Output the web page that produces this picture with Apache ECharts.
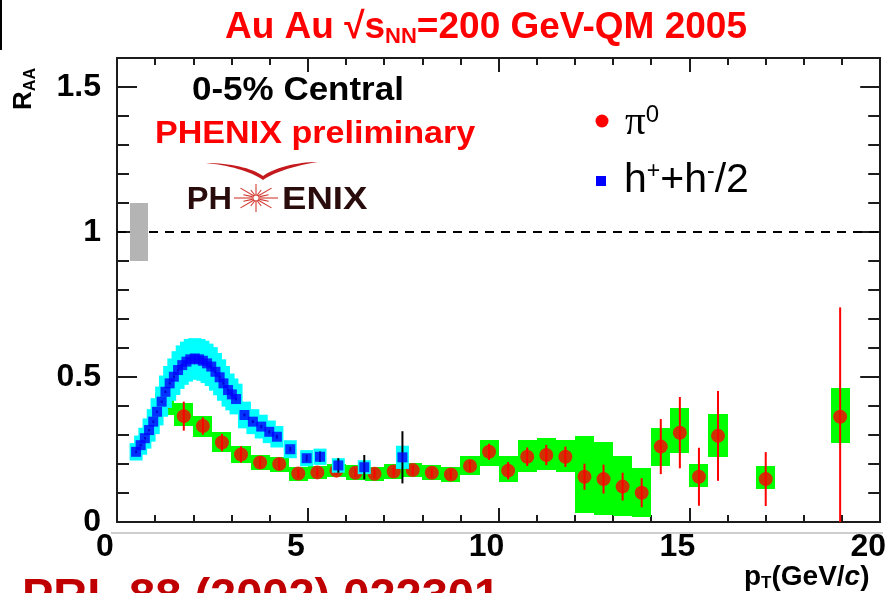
<!DOCTYPE html>
<html>
<head>
<meta charset="utf-8">
<script src="https://cdn.jsdelivr.net/npm/echarts@6/dist/echarts.min.js"></script>
<style>
  html, body { margin: 0; padding: 0; background: #ffffff; }
  #chart { width: 889px; height: 593px; }
</style>
</head>
<body>
<div id="chart"></div>
<script>
// pi0 nuclear modification factor, 0-5% central Au+Au at 200 GeV
const pi0Pt      = [1.25, 1.75, 2.25, 2.75, 3.25, 3.75, 4.25, 4.75, 5.25, 5.75,
                    6.25, 6.75, 7.25, 7.75, 8.25, 8.75, 9.25, 9.75, 10.25, 10.75,
                    11.25, 11.75, 12.25, 12.75, 13.25, 13.75, 14.25, 14.75, 15.25, 15.75,
                    17.0, 18.95];
const pi0Raa     = [0.41, 0.365, 0.331, 0.274, 0.233, 0.205, 0.200, 0.167, 0.171, 0.177,
                    0.170, 0.166, 0.174, 0.179, 0.170, 0.164, 0.193, 0.242, 0.177, 0.225,
                    0.231, 0.225, 0.156, 0.148, 0.122, 0.101, 0.260, 0.308, 0.156, 0.297,
                    0.148, 0.363];
const pi0Stat    = [0.01, 0.05, 0.03, 0.03, 0.028, 0.02, 0.02, 0.015, 0.015, 0.015,
                    0.015, 0.015, 0.015, 0.016, 0.016, 0.017, 0.02, 0.028, 0.03, 0.032,
                    0.035, 0.035, 0.045, 0.05, 0.048, 0.05, 0.095, 0.123, 0.10, 0.155,
                    0.093, 0.377];
const pi0SysUp   = [0.035, 0.044, 0.033, 0.037, 0.028, 0.026, 0.025, 0.024, 0.021, 0.022,
                    0.026, 0.025, 0.025, 0.025, 0.025, 0.026, 0.035, 0.041, 0.051, 0.058,
                    0.06, 0.058, 0.141, 0.129, 0.107, 0.086, 0.065, 0.086, 0.044, 0.077,
                    0.046, 0.1];
const pi0SysDown = [0.04, 0.034, 0.037, 0.032, 0.031, 0.026, 0.027, 0.025, 0.021, 0.022,
                    0.026, 0.025, 0.025, 0.025, 0.025, 0.026, 0.031, 0.049, 0.038, 0.051,
                    0.052, 0.051, 0.126, 0.124, 0.101, 0.085, 0.066, 0.071, 0.036, 0.072,
                    0.035, 0.092];

// charged hadrons (h+ + h-)/2
const hPt   = [0.50, 0.62, 0.73, 0.84, 0.95, 1.05, 1.17, 1.27, 1.38, 1.49,
               1.60, 1.71, 1.82, 1.92, 2.04, 2.15, 2.25, 2.36, 2.47, 2.58,
               2.69, 2.79, 2.91, 3.01, 3.12, 3.34, 3.56, 3.78, 3.99, 4.19,
               4.54, 4.97, 5.32, 5.80, 6.48, 7.48];
const hRaa  = [0.242, 0.265, 0.289, 0.317, 0.346, 0.380, 0.415, 0.449, 0.478, 0.501,
               0.524, 0.541, 0.553, 0.561, 0.564, 0.561, 0.556, 0.547, 0.536, 0.518,
               0.499, 0.478, 0.455, 0.440, 0.424, 0.369, 0.346, 0.329, 0.311, 0.294,
               0.251, 0.220, 0.225, 0.195, 0.189, 0.223];
const hStat = [0.004, 0.004, 0.004, 0.004, 0.004, 0.004, 0.004, 0.004, 0.004, 0.004,
               0.004, 0.004, 0.004, 0.004, 0.004, 0.004, 0.004, 0.004, 0.004, 0.004,
               0.004, 0.004, 0.004, 0.005, 0.005, 0.005, 0.005, 0.006, 0.006, 0.007,
               0.008, 0.012, 0.018, 0.025, 0.042, 0.09];
const hSys  = [0.030, 0.033, 0.036, 0.040, 0.043, 0.047, 0.052, 0.056, 0.060, 0.063,
               0.065, 0.068, 0.069, 0.070, 0.070, 0.070, 0.069, 0.068, 0.067, 0.065,
               0.062, 0.060, 0.057, 0.055, 0.053, 0.046, 0.043, 0.041, 0.039, 0.037,
               0.031, 0.028, 0.028, 0.025, 0.024, 0.040];

// overall normalisation uncertainty at RAA = 1
const normPt  = [0.35, 0.8];
const normRaa = [0.9, 1.1];

// axis ranges and labelled ticks
const xRange = [0, 20];
const yRange = [0, 1.6];
const yLabelTicks = [0, 0.5, 1, 1.5];

const FONT = '"Liberation Sans", Arial, Helvetica, sans-serif';
const AXIS_COLOR = '#1c1c1c';

const pi0Boxes = pi0Pt.map((x, i) => [x, pi0Raa[i] - pi0SysDown[i], pi0Raa[i] + pi0SysUp[i]]);
const pi0Bars  = pi0Pt.map((x, i) => [x, Math.max(0, pi0Raa[i] - pi0Stat[i]), pi0Raa[i] + pi0Stat[i]]);
const pi0Pts   = pi0Pt.map((x, i) => [x, pi0Raa[i]]);
const hBoxes   = hPt.map((x, i) => [x, hRaa[i] - hSys[i], hRaa[i] + hSys[i]]);
const hBars    = hPt.map((x, i) => [x, hRaa[i] - hStat[i], hRaa[i] + hStat[i]]);
const hPts     = hPt.map((x, i) => [x, hRaa[i]]);

// box whose half-width is given in pT units
function dataBox(halfW, color) {
  return function (params, api) {
    const x = api.value(0);
    const a = api.coord([x - halfW, api.value(2)]);
    const b = api.coord([x + halfW, api.value(1)]);
    const x0 = Math.round(a[0]), x1 = Math.round(b[0]);
    const y0 = Math.round(a[1]), y1 = Math.round(b[1]);
    return { type: 'rect', shape: { x: x0, y: y0, width: x1 - x0, height: y1 - y0 },
             style: { fill: color } };
  };
}
// box whose half-width is given in pixels
function pixelBox(halfPx, color) {
  return function (params, api) {
    const a = api.coord([api.value(0), api.value(2)]);
    const b = api.coord([api.value(0), api.value(1)]);
    return { type: 'rect', shape: { x: a[0] - halfPx, y: a[1], width: 2 * halfPx, height: b[1] - a[1] },
             style: { fill: color } };
  };
}
// vertical error bar
function errorBar(color, width) {
  return function (params, api) {
    const a = api.coord([api.value(0), api.value(2)]);
    const b = api.coord([api.value(0), api.value(1)]);
    return { type: 'line', shape: { x1: a[0], y1: a[1], x2: b[0], y2: b[1] },
             style: { stroke: color, lineWidth: width } };
  };
}

// sample a cubic bezier into polygon points
function bezierPts(p0, p1, p2, p3, n) {
  const out = [];
  for (let k = 0; k <= n; k++) {
    const t = k / n, u = 1 - t;
    out.push([
      u * u * u * p0[0] + 3 * u * u * t * p1[0] + 3 * u * t * t * p2[0] + t * t * t * p3[0],
      u * u * u * p0[1] + 3 * u * u * t * p1[1] + 3 * u * t * t * p2[1] + t * t * t * p3[1]
    ]);
  }
  return out;
}
// logo swoosh: two tapered wings meeting in a point
const swoosh = []
  .concat(bezierPts([206, 163], [230, 163], [252, 168], [263, 176], 16))
  .concat(bezierPts([263, 176], [274, 168], [296, 162], [318, 162], 16))
  .concat(bezierPts([318, 162], [298, 165], [276, 171], [263, 180], 16))
  .concat(bezierPts([263, 180], [250, 171], [228, 165], [206, 163], 16));

// logo star: thin spokes around a small ring
const starSpokes = [];
for (let k = 0; k < 16; k++) {
  const ang = k * Math.PI / 8;
  const f = k % 2 ? 0.62 : 1;
  starSpokes.push({ type: 'line',
    shape: { x1: 4 * Math.cos(ang), y1: 3.5 * Math.sin(ang),
             x2: 22 * f * Math.cos(ang), y2: 14 * f * Math.sin(ang) },
    style: { stroke: '#d23a30', lineWidth: 1.1 } });
}
starSpokes.push({ type: 'circle', shape: { cx: 0, cy: 0, r: 3.2 },
                  style: { fill: '#fff', stroke: '#d23a30', lineWidth: 1.2 } });

const lineStyle = { color: AXIS_COLOR, width: 2 };
const tickLabel = { fontSize: 32, fontWeight: 'bold', color: '#000', fontFamily: FONT };

function xAxisDef(pos, withLabels) {
  return {
    type: 'value', min: xRange[0], max: xRange[1], interval: 5, position: pos,
    axisLine: { show: true, onZero: false, lineStyle },
    axisTick: { show: true, inside: true, length: 14, lineStyle },
    minorTick: { show: true, splitNumber: 5, length: 7, lineStyle },
    splitLine: { show: false }, minorSplitLine: { show: false },
    axisLabel: withLabels
      ? Object.assign({ show: true, margin: 9, padding: [0, 24, 0, 0] }, tickLabel)
      : { show: false }
  };
}
function yAxisDef(pos, interval, len, withLabels, withLine) {
  return {
    type: 'value', min: yRange[0], max: yRange[1], interval: interval, position: pos,
    axisLine: { show: withLine, onZero: false, lineStyle },
    axisTick: { show: true, inside: true, length: len, lineStyle },
    splitLine: { show: false },
    axisLabel: withLabels
      ? Object.assign({
          show: true, margin: 16,
          formatter: function (v) {
            const hit = yLabelTicks.find(t => Math.abs(t - v) < 1e-6);
            return hit === undefined ? '' : String(hit);
          }
        }, tickLabel)
      : { show: false }
  };
}

const chart = echarts.init(document.getElementById('chart'), null, { renderer: 'canvas' });

chart.setOption({
  animation: false,
  backgroundColor: '#ffffff',
  grid: { left: 117, right: 6, top: 58, bottom: 71, containLabel: false },
  xAxis: [xAxisDef('bottom', true), xAxisDef('top', false)],
  yAxis: [
    yAxisDef('left', 0.1, 12, true, true),
    yAxisDef('left', 0.5, 20, false, false),
    yAxisDef('right', 0.1, 12, false, true),
    yAxisDef('right', 0.5, 20, false, false)
  ],
  series: [
    {
      name: 'unity', type: 'line', silent: true, z: 1,
      data: [[xRange[0], 1], [xRange[1], 1]], symbol: 'none',
      lineStyle: { color: '#000', width: 2, type: [9, 7] }
    },
    {
      name: 'norm', type: 'custom', z: 2, silent: true,
      data: [[(normPt[0] + normPt[1]) / 2, normRaa[0], normRaa[1]]],
      renderItem: dataBox((normPt[1] - normPt[0]) / 2, '#b4b4b4')
    },
    {
      name: 'pi0 sys', type: 'custom', z: 3, silent: true, clip: true,
      data: pi0Boxes, renderItem: dataBox(0.25, '#00ff00')
    },
    {
      name: 'pi0 stat', type: 'custom', z: 4, silent: true, clip: true,
      data: pi0Bars, renderItem: errorBar('#ff0000', 2)
    },
    {
      name: 'π0', type: 'scatter', z: 5, silent: true,
      data: pi0Pts, symbol: 'circle', symbolSize: 14,
      itemStyle: { color: '#ff0000' }
    },
    {
      name: 'h sys', type: 'custom', z: 6, silent: true, clip: true,
      data: hBoxes, renderItem: pixelBox(6.5, '#00ffff')
    },
    {
      name: 'h stat', type: 'custom', z: 7, silent: true, clip: true,
      data: hBars, renderItem: errorBar('#000000', 2)
    },
    {
      name: 'h', type: 'scatter', z: 8, silent: true,
      data: hPts, symbol: 'rect', symbolSize: 10,
      itemStyle: { color: '#0000ff' }
    }
  ],
  graphic: [
    // title
    { type: 'text', x: 486, y: 28, z: 10,
      style: { text: '{a|Au Au √s}{b|NN}{a|=200 GeV-QM 2005}', align: 'center', verticalAlign: 'middle',
        rich: {
          a: { fontSize: 37, fontWeight: 'bold', fontFamily: FONT, fill: '#ff0000', lineHeight: 40 },
          b: { fontSize: 22, fontWeight: 'bold', fontFamily: FONT, fill: '#ff0000', lineHeight: 20, verticalAlign: 'bottom' }
        } } },
    // y axis title
    { type: 'text', x: 24, y: 89, rotation: Math.PI / 2, z: 10,
      style: { text: '{r|R}{s|AA}', align: 'center', verticalAlign: 'middle',
        rich: {
          r: { fontSize: 26, fontWeight: 'bold', fontFamily: FONT, fill: '#000', lineHeight: 30 },
          s: { fontSize: 16, fontWeight: 'bold', fontFamily: FONT, fill: '#000', lineHeight: 16, verticalAlign: 'bottom' }
        } } },
    // x axis title
    { type: 'text', x: 744, y: 577, z: 10,
      style: { text: '{p|p}{s|T}{p|(GeV/}{i|c}{p|)}', align: 'left', verticalAlign: 'middle',
        rich: {
          p: { fontSize: 28, fontWeight: 'bold', fontFamily: FONT, fill: '#000', lineHeight: 30 },
          i: { fontSize: 28, fontWeight: 'bold', fontStyle: 'italic', fontFamily: FONT, fill: '#000', lineHeight: 30 },
          s: { fontSize: 17, fontWeight: 'bold', fontFamily: FONT, fill: '#000', lineHeight: 16, verticalAlign: 'bottom' }
        } } },
    // centrality and preliminary labels
    { type: 'text', x: 192, y: 91, z: 10, scaleX: 1.06,
      style: { text: '0-5% Central', fontSize: 33, fontWeight: 'bold', fontFamily: FONT, fill: '#000',
               align: 'left', verticalAlign: 'middle' } },
    { type: 'text', x: 155, y: 134, z: 10, scaleX: 1.1,
      style: { text: 'PHENIX preliminary', fontSize: 31, fontWeight: 'bold', fontFamily: FONT, fill: '#ff0000',
               align: 'left', verticalAlign: 'middle' } },
    // PHENIX logo
    { type: 'polygon', z: 10, shape: { points: swoosh }, style: { fill: '#c41a1e' } },
    { type: 'text', x: 232, y: 200, z: 10, scaleX: 1.05,
      style: { text: 'PH', fontSize: 31, fontWeight: 'bold', fontFamily: FONT, fill: '#2a0c0c',
               align: 'right', verticalAlign: 'middle' } },
    { type: 'text', x: 282, y: 200, z: 10, scaleX: 1.18,
      style: { text: 'ENIX', fontSize: 31, fontWeight: 'bold', fontFamily: FONT, fill: '#2a0c0c',
               align: 'left', verticalAlign: 'middle' } },
    { type: 'group', x: 256, y: 198, z: 10, children: starSpokes },
    // legend
    { type: 'circle', z: 10, shape: { cx: 602, cy: 121, r: 6.5 }, style: { fill: '#ff0000' } },
    { type: 'text', x: 625, y: 123, z: 10,
      style: { text: '{p|π}{s|0}', align: 'left', verticalAlign: 'middle',
        rich: {
          p: { fontSize: 41, fontFamily: '"Liberation Serif", "DejaVu Serif", serif', fill: '#000', lineHeight: 40 },
          s: { fontSize: 24, fontFamily: FONT, fill: '#000', lineHeight: 24, verticalAlign: 'top' }
        } } },
    { type: 'rect', z: 10, shape: { x: 596, y: 176, width: 10, height: 10 }, style: { fill: '#0000ff' } },
    { type: 'text', x: 624, y: 181, z: 10,
      style: { text: '{h|h}{s|+}{h|+h}{s|-}{h|/2}', align: 'left', verticalAlign: 'middle',
        rich: {
          h: { fontSize: 41, fontFamily: FONT, fill: '#000', lineHeight: 42 },
          s: { fontSize: 23, fontFamily: FONT, fill: '#000', lineHeight: 20, verticalAlign: 'top' }
        } } },
    // reference line at the foot of the page
    { type: 'text', x: 22, y: 575, z: 10,
      style: { text: 'PRL 88 (2002) 022301', fontSize: 47, fontWeight: 'bold', fontFamily: FONT,
               fill: '#c00000', align: 'left', verticalAlign: 'top' } },
    // page rules
    { type: 'line', z: 0, shape: { x1: 111, y1: 533, x2: 883, y2: 533 }, style: { stroke: '#bdbdbd', lineWidth: 1.5 } },
    { type: 'line', z: 10, shape: { x1: 1, y1: 0, x2: 1, y2: 50 }, style: { stroke: '#000', lineWidth: 2 } }
  ]
});
</script>
</body>
</html>
